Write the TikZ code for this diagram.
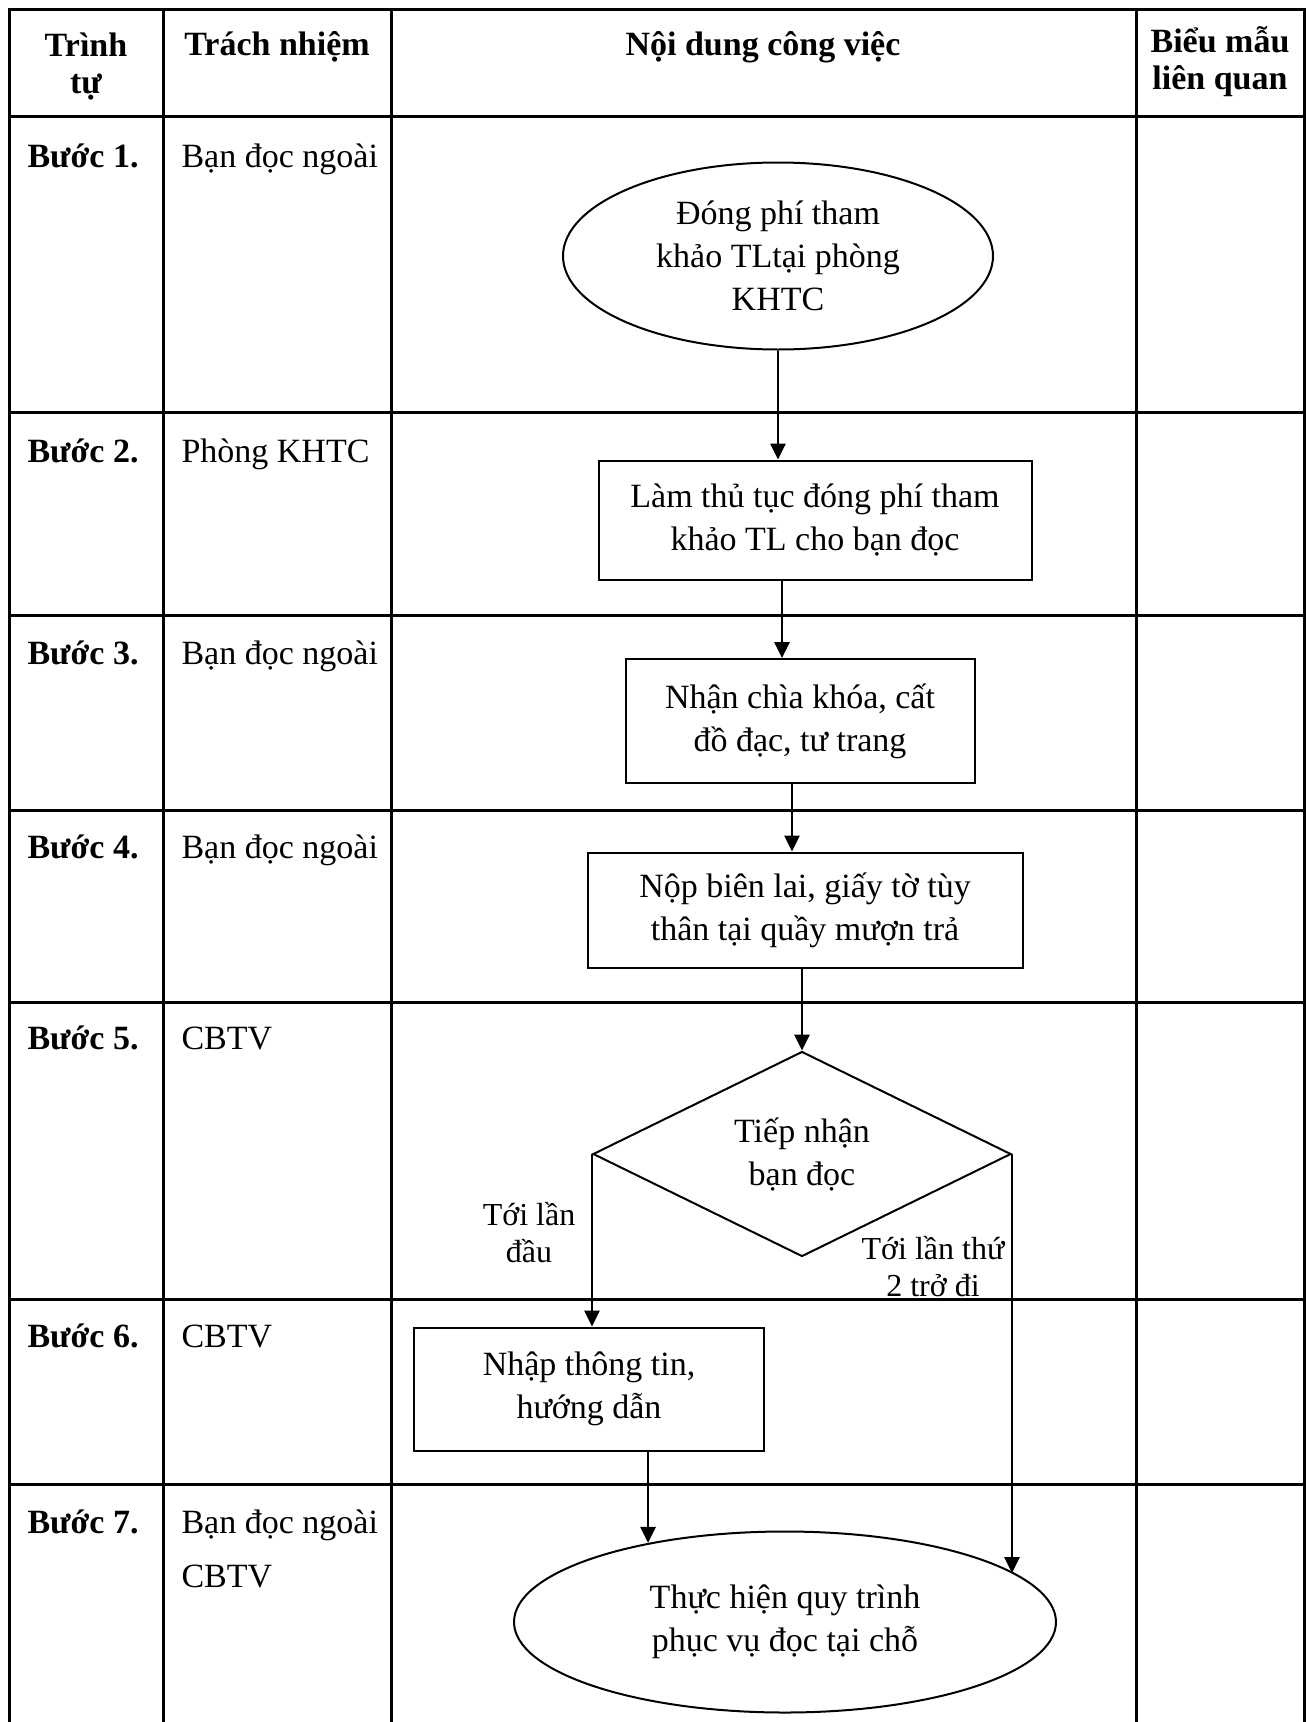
\documentclass[tikz,border=0pt]{standalone}
\usepackage{fontspec}
\setmainfont{Liberation Serif}
\usetikzlibrary{arrows.meta, positioning, shapes.geometric, calc}

\begin{document}
\begin{tikzpicture}[
  x=1pt, y=-1pt,
  every node/.style={font=\fontsize{34}{43}\selectfont},
  gridline/.style={line width=3pt, line cap=rect},
  procnode/.style={rectangle, draw, line width=2pt, align=center, inner sep=0pt},
  termnode/.style={ellipse, draw, line width=2pt, align=center, inner sep=0pt},
  decnode/.style={diamond, aspect=2, draw, line width=2pt, align=center, inner sep=0pt},
  flow/.style={-{Triangle[length=16pt,width=15pt]}, line width=2.8pt},
  headtext/.style={font=\fontsize{34}{37}\selectfont\bfseries, align=center},
  steptext/.style={font=\fontsize{34}{43}\selectfont\bfseries, anchor=base west},
  roletext/.style={anchor=base west},
  branchtext/.style={font=\fontsize{32}{37}\selectfont, align=center},
]
\useasboundingbox (0,0) rectangle (1313,1722);

% Table grid
\draw[gridline] (9,9) -- (1304,9);
\draw[gridline] (9,116) -- (1304,116);
\draw[gridline] (9,412) -- (1304,412);
\draw[gridline] (9,615) -- (1304,615);
\draw[gridline] (9,810) -- (1304,810);
\draw[gridline] (9,1002) -- (1304,1002);
\draw[gridline] (9,1299) -- (1304,1299);
\draw[gridline] (9,1484) -- (1304,1484);
\draw[gridline] (9,9) -- (9,1722);
\draw[gridline] (163,9) -- (163,1722);
\draw[gridline] (391,9) -- (391,1722);
\draw[gridline] (1136,9) -- (1136,1722);
\draw[gridline] (1304,9) -- (1304,1722);

% Header row
\node[headtext] (h1) at (86,67) {Trình\\tự};
\node[headtext, anchor=base] (h2) at (277,55) {Trách nhiệm};
\node[headtext, anchor=base] (h3) at (763,55) {Nội dung công việc};
\node[headtext] (h4) at (1220,62) {Biểu mẫu\\liên quan};

% Steps and roles
\node[steptext] (s1) at (24,167) {Bước 1.};
\node[steptext] (s2) at (24,462) {Bước 2.};
\node[steptext] (s3) at (24,664) {Bước 3.};
\node[steptext] (s4) at (24,858) {Bước 4.};
\node[steptext] (s5) at (24,1049) {Bước 5.};
\node[steptext] (s6) at (24,1347) {Bước 6.};
\node[steptext] (s7) at (24,1533) {Bước 7.};

\node[roletext] (r1) at (178,167) {Bạn đọc ngoài};
\node[roletext] (r2) at (178,462) {Phòng KHTC};
\node[roletext] (r3) at (178,664) {Bạn đọc ngoài};
\node[roletext] (r4) at (178,858) {Bạn đọc ngoài};
\node[roletext] (r5) at (178,1049) {CBTV};
\node[roletext] (r6) at (178,1347) {CBTV};
\node[roletext] (r7) at (178,1533) {Bạn đọc ngoài};
\node[roletext] (r7b) at (178,1587) {CBTV};

% Flow chart
\node[termnode, minimum width=430pt, minimum height=187pt] (e1) at (778,256) {Đóng phí tham\\khảo TLtại phòng\\KHTC};
\node[procnode, minimum width=433pt, minimum height=119pt] (p2) at (815,520) {Làm thủ tục đóng phí tham\\khảo TL cho bạn đọc};
\node[procnode, minimum width=349pt, minimum height=124pt] (p3) at (800,721) {Nhận chìa khóa, cất\\đồ đạc, tư trang};
\node[procnode, minimum width=435pt, minimum height=115pt] (p4) at (805,910) {Nộp biên lai, giấy tờ tùy\\thân tại quầy mượn trả};
\node[decnode, minimum width=418pt, minimum height=205pt] (d5) at (802,1154) {Tiếp nhận\\bạn đọc};
\node[procnode, minimum width=350pt, minimum height=123pt] (p6) at (589,1389) {Nhập thông tin,\\hướng dẫn};
\node[termnode, minimum width=542pt, minimum height=181pt] (e7) at (785,1622) {Thực hiện quy trình\\phục vụ đọc tại chỗ};

\node[branchtext] (l1) at (529,1233) {Tới lần\\đầu};
\node[branchtext] (l2) at (933,1267) {Tới lần thứ\\2 trở đi};

\draw[flow] (e1.south) -- (e1.south |- p2.north);
\draw[flow] ([xshift=-33pt]p2.south) -- ([xshift=-33pt]p2.south |- p3.north);
\draw[flow] ([xshift=-8pt]p3.south) -- ([xshift=-8pt]p3.south |- p4.north);
\draw[flow] (p4.south -| d5.north) -- (d5.north);
\draw[flow] (d5.west) -- (d5.west |- p6.north);
\draw[flow] (d5.east) -- (d5.east |- e7.12.5);
\draw[flow] (p6.south -| e7.150) -- (e7.150);

\end{tikzpicture}
\end{document}
